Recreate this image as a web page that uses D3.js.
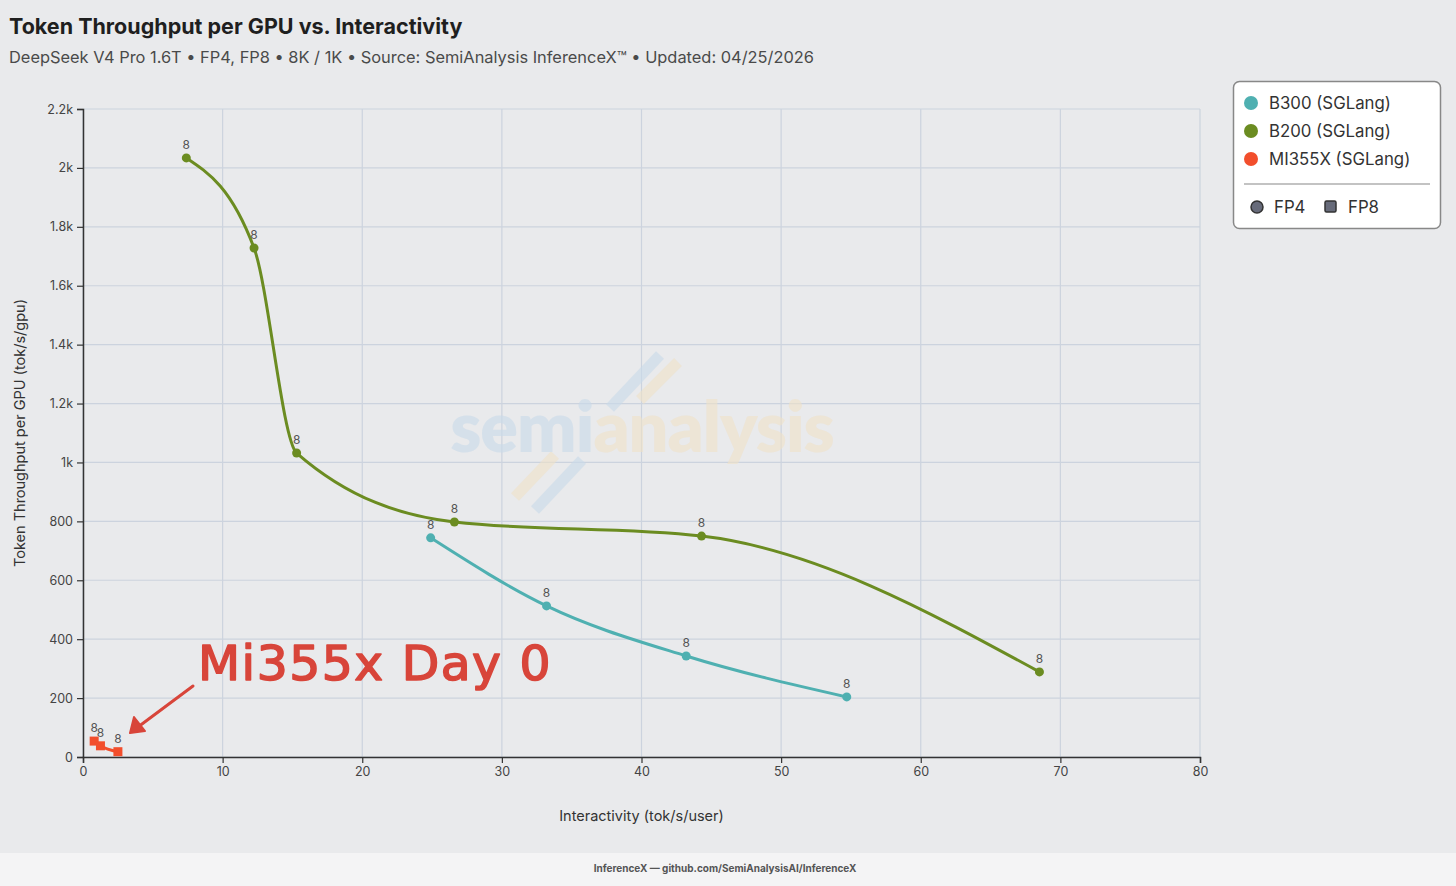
<!DOCTYPE html>
<html><head><meta charset="utf-8">
<script src="https://cdn.jsdelivr.net/npm/d3@7"></script>
<style>
html,body{margin:0;padding:0;background:#e9eaec;}
svg{display:block;font-family:Inter,"Noto Sans",sans-serif;}
</style></head><body>
<svg id="c" width="1456" height="886"></svg>
<script>
const xTicks = [0,10,20,30,40,50,60,70,80];
const yTicks = [0,200,400,600,800,1000,1200,1400,1600,1800,2000,2200];
const yTickLabels = ["0","200","400","600","800","1k","1.2k","1.4k","1.6k","1.8k","2k","2.2k"];
const seriesNames = ["B300 (SGLang)","B200 (SGLang)","MI355X (SGLang)"];
const seriesColors = ["#4fb0b1","#6b8c21","#f24e2c"];
const seriesPrecision = ["FP4","FP4","FP8"];
const b300X = [24.9,33.2,43.2,54.7];
const b300Y = [744,513,343,204];
const b200X = [7.4,12.25,15.3,26.6,44.3,68.5];
const b200Y = [2034,1728,1032,798,750,289];
const mi355X = [0.8,1.25,2.5];
const mi355Y = [54,38,18];
const pointLabel = "8";

const svg = d3.select("#c");
const W=1456,H=886;
const m={l:83,r:1200,t:109,b:757};
const x=d3.scaleLinear().domain([0,80]).range([m.l,m.r]);
const y=d3.scaleLinear().domain([0,2200]).range([m.b,m.t]);

// footer band
svg.append("rect").attr("x",0).attr("y",853).attr("width",W).attr("height",H-853).attr("fill","#f4f4f5");
svg.append("text").attr("x",W/2-3).attr("y",872).attr("text-anchor","middle")
  .attr("font-size",10).attr("font-weight",700).attr("fill","#555").text("InferenceX — github.com/SemiAnalysisAI/InferenceX");

// title
svg.append("text").attr("x",9).attr("y",34).attr("font-size",21.5).attr("font-weight",700).attr("fill","#1f1f1f").text("Token Throughput per GPU vs. Interactivity");
svg.append("text").attr("x",9).attr("y",63).attr("font-size",16.4).attr("fill","#4a4a4a").text("DeepSeek V4 Pro 1.6T • FP4, FP8 • 8K / 1K • Source: SemiAnalysis InferenceX™ • Updated: 04/25/2026");

// grid
const g=svg.append("g");
g.selectAll(".gx").data(xTicks).join("line").attr("x1",d=>x(d)).attr("x2",d=>x(d)).attr("y1",m.t).attr("y2",m.b).attr("stroke","#ccd3de").attr("stroke-width",1.2);
g.selectAll(".gy").data(yTicks).join("line").attr("x1",m.l).attr("x2",m.r).attr("y1",d=>y(d)).attr("y2",d=>y(d)).attr("stroke","#ccd3de").attr("stroke-width",1.2);

// watermark
const wm=svg.append("g").attr("opacity",0.6);
const stripe=(x1,y1,x2,y2,c)=>wm.append("line").attr("x1",x1).attr("y1",y1).attr("x2",x2).attr("y2",y2).attr("stroke",c).attr("stroke-width",11);
stripe(610,408,660,355,"#c9dbea");
stripe(640,400,678,362,"#f0e2c8");
stripe(515,497,555,455,"#f0e2c8");
stripe(535,510,582,460,"#c9dbea");
const wt=wm.append("text").attr("x",642).attr("y",452).attr("text-anchor","middle").attr("font-size",70).attr("font-weight",800).attr("font-family","Lato,Inter,sans-serif").attr("letter-spacing",-1);
wt.append("tspan").attr("fill","#c9dbea").text("semi");
wt.append("tspan").attr("fill","#f0e2c8").text("analysis");

// axes
const xa=svg.append("g").attr("transform",`translate(0,${m.b})`).call(d3.axisBottom(x).tickValues(xTicks).tickSize(6).tickPadding(4));
const ya=svg.append("g").attr("transform",`translate(${m.l},0)`).call(d3.axisLeft(y).tickValues(yTicks).tickFormat((d,i)=>yTickLabels[i]).tickSize(6).tickPadding(4));
[xa,ya].forEach(a=>{a.select(".domain").attr("stroke","#333").attr("stroke-width",1.5);
 a.selectAll(".tick line").attr("stroke","#333").attr("stroke-width",1.2);
 a.selectAll(".tick text").attr("fill","#444").attr("font-size",12.5).attr("font-family","Inter,sans-serif");});

svg.append("text").attr("x",(m.l+m.r)/2).attr("y",821).attr("text-anchor","middle").attr("font-size",14.5).attr("fill","#333").text("Interactivity (tok/s/user)");
svg.append("text").attr("transform",`translate(25,${(m.t+m.b)/2}) rotate(-90)`).attr("text-anchor","middle").attr("font-size",14.5).attr("fill","#333").text("Token Throughput per GPU (tok/s/gpu)");

// series
const series=[
 {xs:b300X,ys:b300Y,c:seriesColors[0],p:seriesPrecision[0]},
 {xs:b200X,ys:b200Y,c:seriesColors[1],p:seriesPrecision[1]},
 {xs:mi355X,ys:mi355Y,c:seriesColors[2],p:seriesPrecision[2]}
];
const line=d3.line().x(d=>x(d[0])).y(d=>y(d[1])).curve(d3.curveMonotoneX);
series.forEach(s=>{
  const pts=s.xs.map((v,i)=>[v,s.ys[i]]);
  svg.append("path").attr("d",line(pts)).attr("fill","none").attr("stroke",s.c).attr("stroke-width",3);
  pts.forEach(p=>{
    if(s.p==="FP4") svg.append("circle").attr("cx",x(p[0])).attr("cy",y(p[1])).attr("r",4.5).attr("fill",s.c);
    else svg.append("rect").attr("x",x(p[0])-4.5).attr("y",y(p[1])-4.5).attr("width",9).attr("height",9).attr("fill",s.c);
    svg.append("text").attr("x",x(p[0])).attr("y",y(p[1])-9).attr("text-anchor","middle").attr("font-size",12).attr("fill","#555").text(pointLabel);
  });
});

// annotation
const ann=svg.append("g");
ann.append("text").attr("x",198).attr("y",680).attr("font-size",48).attr("font-family","'Comic Sans MS','DejaVu Sans',sans-serif").attr("fill","#d8453a").attr("stroke","#d8453a").attr("stroke-width",1.6).attr("stroke-linejoin","round").attr("letter-spacing",1.5).attr("textLength",354).attr("lengthAdjust","spacingAndGlyphs").text("Mi355x Day 0");
ann.append("line").attr("x1",193).attr("y1",686).attr("x2",138).attr("y2",727).attr("stroke","#d8453a").attr("stroke-width",3).attr("stroke-linecap","round");
ann.append("path").attr("d","M130,733 L134,717 L145,731 Z").attr("fill","#d8453a").attr("stroke","#d8453a").attr("stroke-width",2).attr("stroke-linejoin","round");

// legend
const lg=svg.append("g");
lg.append("rect").attr("x",1233.5).attr("y",81.5).attr("width",207).attr("height",147).attr("rx",6).attr("fill","#fff").attr("stroke","#888").attr("stroke-width",1.5);
seriesNames.forEach((n,i)=>{
  lg.append("circle").attr("cx",1251).attr("cy",103+i*28).attr("r",7).attr("fill",seriesColors[i]);
  lg.append("text").attr("x",1269).attr("y",109+i*28).attr("font-size",16.8).attr("fill","#333").text(n);
});
lg.append("line").attr("x1",1244).attr("x2",1430).attr("y1",184).attr("y2",184).attr("stroke","#888").attr("stroke-width",1.2);
lg.append("circle").attr("cx",1257).attr("cy",207).attr("r",6).attr("fill","#676b7a").attr("stroke","#333").attr("stroke-width",1.5);
lg.append("text").attr("x",1274).attr("y",213).attr("font-size",16.8).attr("fill","#333").text("FP4");
lg.append("rect").attr("x",1325).attr("y",201).attr("width",11).attr("height",11).attr("rx",1.5).attr("fill","#676b7a").attr("stroke","#333").attr("stroke-width",1.5);
lg.append("text").attr("x",1348).attr("y",213).attr("font-size",16.8).attr("fill","#333").text("FP8");
</script>
</body></html>
